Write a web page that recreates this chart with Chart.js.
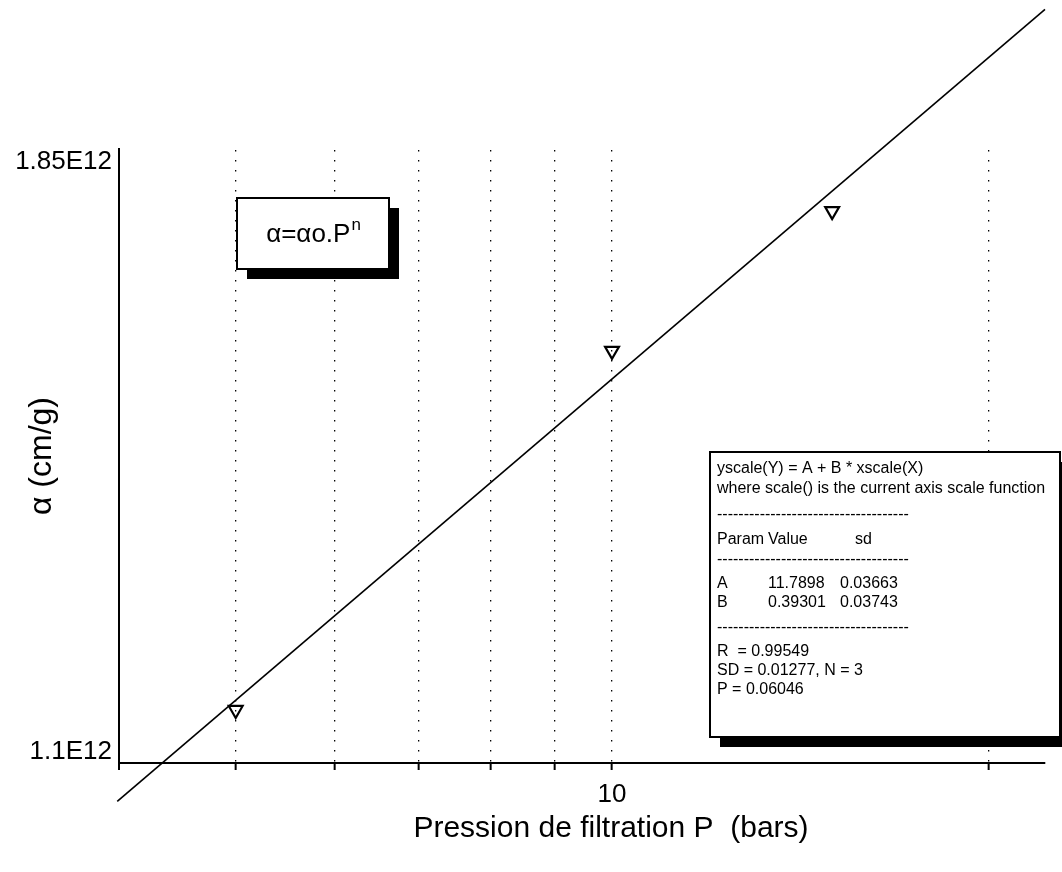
<!DOCTYPE html>
<html>
<head>
<meta charset="utf-8">
<script src="https://cdn.jsdelivr.net/npm/chart.js@4"></script>
<style>
  html, body { margin: 0; padding: 0; background: #fff; }
  #wrap { width: 1062px; height: 872px; position: relative; }
</style>
</head>
<body>
<div id="wrap"><canvas id="c"></canvas></div>
<script>
// Measured specific resistance versus filtration pressure
const pressure = [5, 10, 15];
const alphaValues = [1.1506e12, 1.5602e12, 1.7565e12];

// Regression in log-log coordinates: log(Y) = A + B * log(X)
const fitParams = ['A', 'B'];
const fitValues = [11.7898, 0.39301];
const fitSd = [0.03663, 0.03743];
const fitSpan = [4.02, 22.2];
const fitStats = ['R  = 0.99549', 'SD = 0.01277, N = 3', 'P = 0.06046'];

// Axis ticks
const xGridValues = [5, 6, 7, 8, 9, 10, 20];
const xTickLabels = ['', '', '', '', '', '10', ''];
const yTickValues = [1.1e12, 1.85e12];
const yTickLabels = ['1.1E12', '1.85E12'];

const FONT = '"Liberation Sans", Arial, sans-serif';

const points = pressure.map((p, i) => ({ x: p, y: alphaValues[i] }));
const fitLine = fitSpan.map(p => ({ x: p, y: Math.pow(10, fitValues[0] + fitValues[1] * Math.log10(p)) }));

function shadowBox(ctx, x, y, w, h, off) {
  ctx.fillStyle = '#000';
  ctx.fillRect(x + off, y + off, w, h);
  ctx.fillStyle = '#fff';
  ctx.fillRect(x, y, w, h);
  ctx.lineWidth = 2;
  ctx.strokeStyle = '#000';
  ctx.strokeRect(x, y, w, h);
}

const notes = {
  id: 'notes',
  afterDraw(chart) {
    const { ctx, chartArea: a, scales: { x, y } } = chart;
    ctx.save();

    // y axis runs slightly past the plot area
    ctx.strokeStyle = '#000';
    ctx.lineWidth = 2;
    ctx.beginPath();
    ctx.moveTo(a.left, a.top - 2);
    ctx.lineTo(a.left, a.bottom + 7);
    ctx.stroke();

    // y tick labels, kept inside the axis span
    ctx.fillStyle = '#000';
    ctx.font = '26px ' + FONT;
    ctx.textAlign = 'right';
    ctx.textBaseline = 'alphabetic';
    yTickValues.forEach((v, i) => {
      const py = y.getPixelForValue(v);
      const base = i === yTickValues.length - 1 ? py + 19 : py - 4;
      ctx.fillText(yTickLabels[i], a.left - 7, base);
    });

    // axis titles
    ctx.font = '30px ' + FONT;
    ctx.textAlign = 'center';
    ctx.fillText('Pression de filtration P  (bars)', 611, 837);
    ctx.save();
    ctx.translate(42, 456);
    ctx.rotate(-Math.PI / 2);
    ctx.textBaseline = 'middle';
    ctx.font = '32px ' + FONT;
    ctx.fillText('\u03b1 (cm/g)', 0, 0);
    ctx.restore();

    // model label
    shadowBox(ctx, 237, 198, 152, 71, 10);
    ctx.fillStyle = '#000';
    ctx.textAlign = 'left';
    ctx.textBaseline = 'alphabetic';
    ctx.font = '26px ' + FONT;
    const main = '\u03b1=\u03b1o.P';
    const wMain = ctx.measureText(main).width;
    ctx.font = '17px ' + FONT;
    const wSup = ctx.measureText('n').width;
    const tx = 237 + 76 - (wMain + wSup) / 2;
    ctx.font = '26px ' + FONT;
    ctx.fillText(main, tx, 242);
    ctx.font = '17px ' + FONT;
    ctx.fillText('n', tx + wMain + 1, 230);

    // regression summary
    shadowBox(ctx, 710, 452, 350, 285, 10);
    ctx.fillStyle = '#000';
    ctx.font = '16px ' + FONT;
    const lx = 717;
    const dash = '-'.repeat(36);
    ctx.fillText('yscale(Y) = A + B * xscale(X)', lx, 473);
    ctx.fillText('where scale() is the current axis scale function', lx, 493);
    ctx.fillText(dash, lx, 519);
    ctx.fillText('Param', lx, 544);
    ctx.fillText('Value', lx + 51, 544);
    ctx.fillText('sd', lx + 138, 544);
    ctx.fillText(dash, lx, 564);
    fitParams.forEach((p, i) => {
      const by = 588 + i * 19;
      ctx.fillText(p, lx, by);
      ctx.fillText(String(fitValues[i]), lx + 51, by);
      ctx.fillText(fitSd[i].toFixed(5), lx + 123, by);
    });
    ctx.fillText(dash, lx, 632);
    fitStats.forEach((s, i) => ctx.fillText(s, lx, 656 + i * 19));

    ctx.restore();
  }
};

new Chart(document.getElementById('c'), {
  type: 'scatter',
  data: {
    datasets: [
      {
        label: 'mesures',
        data: points,
        showLine: false,
        pointStyle: 'triangle',
        rotation: 180,
        pointRadius: 8,
        pointBorderWidth: 2.2,
        borderColor: '#000',
        pointBorderColor: '#000',
        pointBackgroundColor: 'rgba(0,0,0,0)',
        order: 0
      },
      {
        label: 'ajustement',
        data: fitLine,
        showLine: true,
        borderColor: '#000',
        borderWidth: 1.6,
        pointRadius: 0,
        clip: false,
        order: 1
      }
    ]
  },
  options: {
    responsive: true,
    maintainAspectRatio: false,
    animation: false,
    events: [],
    layout: { padding: { top: 150, right: 17, left: 0, bottom: 0 } },
    plugins: { legend: { display: false }, tooltip: { enabled: false } },
    scales: {
      x: {
        type: 'logarithmic',
        min: 4.033,
        max: 22.2,
        afterBuildTicks(s) { s.ticks = xGridValues.map(v => ({ value: v })); },
        afterFit(s) { s.height = 109; },
        grid: {
          color: '#000', lineWidth: 1.3, drawTicks: true,
          tickLength: 7, tickColor: '#000', tickWidth: 2, tickBorderDash: []
        },
        border: { display: true, color: '#000', width: 2, dash: [1.5, 8.5] },
        ticks: {
          autoSkip: false, maxRotation: 0, minRotation: 0, padding: 9, color: '#000',
          font: { family: FONT, size: 26 },
          callback: (v, i) => xTickLabels[i]
        }
      },
      y: {
        type: 'logarithmic',
        min: 1.1e12,
        max: 1.85e12,
        afterBuildTicks(s) { s.ticks = yTickValues.map(v => ({ value: v })); },
        afterFit(s) { s.width = 119; },
        grid: { display: false },
        border: { display: true, color: '#000', width: 2 },
        ticks: { display: false }
      }
    }
  },
  plugins: [notes]
});
</script>
</body>
</html>
